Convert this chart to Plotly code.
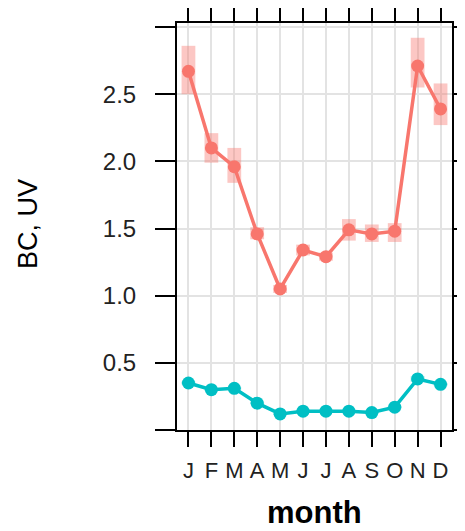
import plotly.graph_objects as go

months = [1, 2, 3, 4, 5, 6, 7, 8, 9, 10, 11, 12]
month_labels = ["J", "F", "M", "A", "M", "J", "J", "A", "S", "O", "N", "D"]

bc_mean = [2.67, 2.10, 1.96, 1.46, 1.05, 1.34, 1.29, 1.49, 1.46, 1.48, 2.71, 2.39]
bc_lower = [2.50, 1.99, 1.84, 1.42, 1.02, 1.30, 1.26, 1.41, 1.40, 1.40, 2.55, 2.27]
bc_upper = [2.86, 2.21, 2.10, 1.51, 1.08, 1.38, 1.32, 1.57, 1.53, 1.54, 2.92, 2.58]

uv_mean = [0.35, 0.30, 0.31, 0.20, 0.12, 0.14, 0.14, 0.14, 0.13, 0.17, 0.38, 0.34]
uv_lower = [0.34, 0.29, 0.30, 0.19, 0.115, 0.135, 0.135, 0.135, 0.125, 0.16, 0.36, 0.33]
uv_upper = [0.36, 0.31, 0.32, 0.21, 0.125, 0.145, 0.145, 0.145, 0.135, 0.18, 0.40, 0.35]

y_tickvals = [0, 0.5, 1.0, 1.5, 2.0, 2.5, 3.0]
y_ticktext = ["", "0.5", "1.0", "1.5", "2.0", "2.5", ""]

RED = "#F8766D"
CYAN = "#00BFC4"

fig = go.Figure()

fig.add_trace(go.Bar(
    x=months, base=bc_lower, y=[u - l for u, l in zip(bc_upper, bc_lower)],
    width=0.6, marker=dict(color=RED, line=dict(width=0)), opacity=0.4,
    showlegend=False, hoverinfo="skip"))
fig.add_trace(go.Bar(
    x=months, base=uv_lower, y=[u - l for u, l in zip(uv_upper, uv_lower)],
    width=0.6, marker=dict(color=CYAN, line=dict(width=0)), opacity=0.4,
    showlegend=False, hoverinfo="skip"))

fig.add_trace(go.Scatter(
    x=months, y=bc_mean, mode="lines+markers", name="BC",
    line=dict(color=RED, width=3.5), marker=dict(color=RED, size=13),
    showlegend=False))
fig.add_trace(go.Scatter(
    x=months, y=uv_mean, mode="lines+markers", name="UV",
    line=dict(color=CYAN, width=3.5), marker=dict(color=CYAN, size=13),
    showlegend=False))

fig.update_layout(
    width=457, height=523,
    margin=dict(l=169, r=13, t=15, b=101, autoexpand=False),
    paper_bgcolor="white", plot_bgcolor="white",
    barmode="overlay",
    font=dict(family="Liberation Sans, Arial, sans-serif", color="black"),
    xaxis=dict(
        range=[0.5, 12.5], tickvals=months, ticktext=month_labels,
        ticks="outside", ticklen=15, tickwidth=2, tickcolor="black",
        showline=True, linecolor="black", linewidth=2, mirror="ticks",
        showgrid=True, gridcolor="#E3E3E3", gridwidth=2, zeroline=False,
        tickfont=dict(size=22, color="#222222"), ticklabelstandoff=5,
        automargin=False,
    ),
    yaxis=dict(
        range=[0, 3.03], tickvals=y_tickvals, ticktext=y_ticktext,
        ticks="outside", ticklen=20, tickwidth=2, tickcolor="black",
        showline=True, linecolor="black", linewidth=2, mirror="ticks",
        showgrid=True, gridcolor="#E3E3E3", gridwidth=2, zeroline=False,
        tickfont=dict(size=24, color="#222222"), ticklabelstandoff=14,
        automargin=False,
    ),
    annotations=[
        dict(text="BC, UV", xref="paper", yref="paper", x=-0.542, y=0.506,
             xanchor="center", yanchor="middle", textangle=-90,
             showarrow=False, font=dict(size=27, color="black")),
        dict(text="<b>month</b>", xref="paper", yref="paper", x=0.5, y=-0.203,
             xanchor="center", yanchor="middle",
             showarrow=False, font=dict(size=31, color="black")),
    ],
)

fig.write_html("out.html")
